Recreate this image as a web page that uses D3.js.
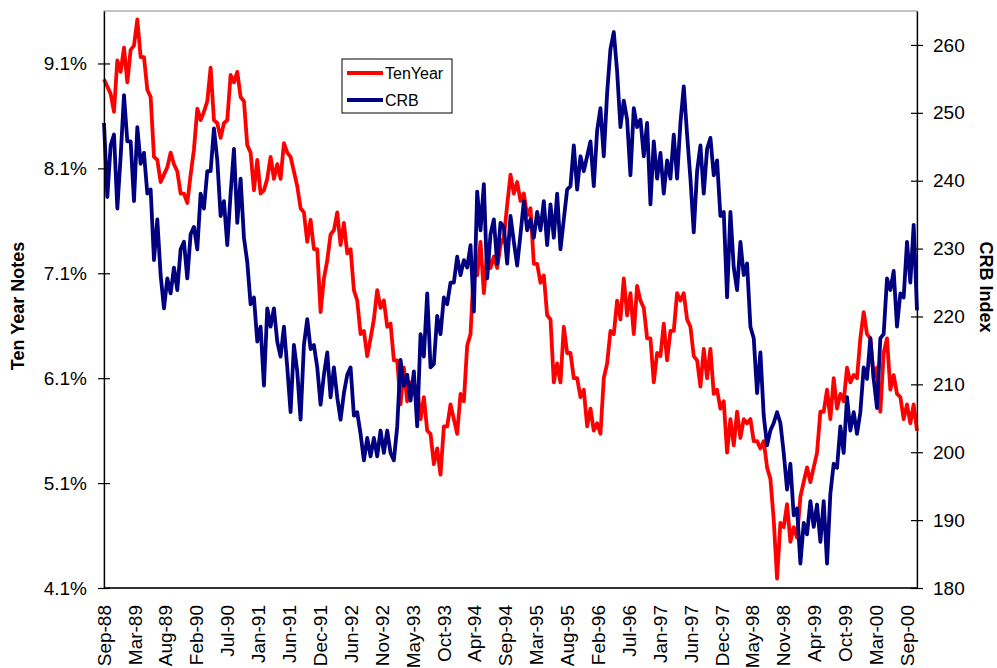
<!DOCTYPE html>
<html>
<head>
<meta charset="utf-8">
<script src="https://cdn.jsdelivr.net/npm/d3@7"></script>
<style>
	body { margin: 0; background: #fff; }
	svg { display: block; font-family: "Liberation Sans", Arial, sans-serif; }
</style>
</head>
<body>
<div id="chart"></div>
<script>
'use strict';

// category labels along the bottom (one every labelEvery trading days)
var tickLabels = ['Sep-88', 'Mar-89', 'Aug-89', 'Feb-90', 'Jul-90', 'Jan-91', 'Jun-91', 'Dec-91', 'Jun-92',
	'Nov-92', 'May-93', 'Oct-93', 'Apr-94', 'Sep-94', 'Mar-95', 'Aug-95', 'Feb-96', 'Jul-96', 'Jan-97',
	'Jun-97', 'Dec-97', 'May-98', 'Nov-98', 'Apr-99', 'Oct-99', 'Mar-00', 'Sep-00'];

var daysPerSample = 11;
var labelEvery = 102;

var leftTicks = [4.1, 5.1, 6.1, 7.1, 8.1, 9.1];
var rightTicks = [180, 190, 200, 210, 220, 230, 240, 250, 260];

// ten year note yield, %
var tenYear = [
	8.95, 8.88, 8.81, 8.64, 9.13, 9.02, 9.25, 8.92, 9.23, 9.27, 9.52, 9.16, 9.16, 8.85, 8.78, 8.21, 8.18, 7.97, 8.04, 8.11,
	8.25, 8.14, 8.07, 7.86, 7.86, 7.77, 8.04, 8.28, 8.67, 8.56, 8.64, 8.74, 9.06, 8.56, 8.53, 8.39, 8.53, 8.56, 8.99, 8.92,
	9.02, 8.78, 8.74, 8.32, 8.25, 7.89, 8.18, 7.86, 7.89, 8.00, 8.21, 8.00, 8.14, 8.00, 8.34, 8.25, 8.21, 8.07, 7.93, 7.72,
	7.68, 7.40, 7.61, 7.33, 7.33, 6.73, 7.05, 7.22, 7.47, 7.51, 7.68, 7.37, 7.58, 7.29, 7.33, 6.94, 6.84, 6.52, 6.55, 6.31,
	6.48, 6.66, 6.94, 6.77, 6.84, 6.59, 6.62, 6.27, 6.27, 5.85, 6.20, 5.88, 6.06, 5.95, 6.02, 5.71, 5.92, 5.60, 5.57, 5.28,
	5.43, 5.18, 5.64, 5.64, 5.85, 5.71, 5.57, 5.95, 5.88, 6.41, 6.52, 7.15, 7.08, 7.40, 6.91, 7.29, 7.15, 7.26, 7.15, 7.37,
	7.44, 7.75, 8.04, 7.86, 7.97, 7.79, 7.86, 7.65, 7.72, 7.19, 7.19, 7.01, 7.08, 6.70, 6.66, 6.06, 6.24, 6.06, 6.59, 6.34,
	6.34, 6.10, 6.10, 5.92, 5.99, 5.64, 5.81, 5.60, 5.67, 5.57, 6.10, 6.24, 6.55, 6.52, 6.84, 6.66, 7.05, 6.70, 6.91, 6.52,
	6.98, 6.84, 6.77, 6.48, 6.48, 6.06, 6.34, 6.31, 6.62, 6.27, 6.55, 6.55, 6.91, 6.84, 6.91, 6.66, 6.59, 6.31, 6.27, 6.02,
	6.38, 6.10, 6.38, 5.95, 5.99, 5.81, 5.88, 5.39, 5.71, 5.46, 5.78, 5.53, 5.71, 5.67, 5.71, 5.50, 5.50, 5.43, 5.50, 5.25,
	5.14, 4.75, 4.19, 4.72, 4.68, 4.90, 4.54, 4.68, 4.58, 4.97, 5.11, 5.25, 5.11, 5.25, 5.39, 5.78, 5.78, 5.99, 5.71, 6.10,
	5.81, 5.95, 5.88, 6.20, 6.06, 6.13, 6.10, 6.48, 6.73, 6.52, 6.48, 6.10, 6.20, 5.78, 6.34, 6.48, 5.99, 6.13, 5.95, 5.92,
	5.71, 5.85, 5.67, 5.85, 5.60
];

// CRB commodity index
var crb = [
	248.5, 237.6, 245.2, 246.8, 235.9, 243.6, 252.6, 245.8, 245.8, 237.0, 247.9, 242.5, 244.1, 238.1, 238.7, 228.3, 234.3, 226.1, 221.2, 225.6,
	223.4, 227.2, 223.9, 229.9, 231.0, 225.6, 232.1, 233.2, 229.9, 238.1, 235.9, 241.4, 241.4, 247.7, 243.0, 234.8, 237.0, 230.5, 238.1, 244.7,
	233.8, 240.3, 231.6, 228.0, 221.8, 222.8, 216.3, 218.5, 209.8, 221.2, 218.5, 221.2, 216.3, 214.1, 218.5, 212.5, 205.9, 215.8, 211.9, 204.8,
	215.8, 219.6, 215.2, 215.8, 212.5, 207.0, 211.4, 214.7, 208.1, 212.5, 208.1, 204.8, 208.7, 211.4, 212.5, 205.4, 205.9, 202.7, 198.8, 202.1,
	199.4, 202.1, 199.4, 203.2, 199.9, 203.2, 199.9, 198.8, 203.8, 213.6, 209.8, 211.4, 207.6, 211.9, 203.8, 217.4, 214.1, 223.4, 212.5, 213.0,
	220.1, 217.4, 222.8, 221.8, 225.0, 225.0, 228.8, 226.1, 228.3, 227.2, 230.5, 220.7, 238.4, 232.7, 239.5, 225.6, 232.1, 234.3, 227.8, 233.8,
	233.2, 227.8, 234.8, 231.0, 227.5, 232.1, 237.0, 232.7, 234.3, 231.6, 235.4, 232.7, 237.0, 230.5, 236.5, 231.6, 238.1, 229.9, 234.3, 238.7,
	239.2, 245.2, 238.7, 243.6, 241.4, 243.6, 245.8, 239.2, 247.4, 250.7, 243.6, 252.9, 259.4, 261.9, 256.1, 247.9, 251.8, 249.0, 240.8, 250.7,
	247.9, 249.0, 243.6, 248.5, 236.5, 245.8, 240.3, 244.1, 238.1, 243.0, 240.3, 246.8, 240.3, 248.5, 253.9, 246.8, 240.3, 232.4, 241.4, 245.2,
	238.1, 244.7, 246.3, 240.8, 243.0, 234.8, 235.4, 222.8, 235.4, 227.2, 223.9, 231.0, 226.1, 227.8, 218.5, 216.8, 208.7, 214.7, 205.4, 201.0,
	203.2, 204.3, 205.9, 204.3, 199.9, 194.5, 198.3, 190.7, 191.7, 183.6, 189.6, 187.9, 192.8, 189.0, 192.3, 186.8, 192.8, 183.6, 193.9, 198.3,
	197.7, 203.8, 199.9, 208.1, 203.2, 205.9, 202.7, 205.9, 212.5, 210.8, 216.8, 210.8, 206.5, 216.8, 217.4, 225.6, 223.9, 226.7, 218.5, 223.4,
	222.8, 231.0, 225.0, 233.5, 220.9
];

var seriesNames = ['TenYear', 'CRB'];
var seriesColors = ['#ff0000', '#000080'];

var W = 997, H = 668;
var margin = {top: 11, right: 80, bottom: 80, left: 104};
var width = W - margin.left - margin.right;
var height = H - margin.top - margin.bottom;

var svg = d3.select('#chart').append('svg')
	.attr('width', W)
	.attr('height', H);

svg.append('rect').attr('width', W).attr('height', H).attr('fill', '#fff');

var g = svg.append('g')
	.attr('transform', 'translate(' + margin.left + ',' + margin.top + ')');

var x = d3.scaleLinear()
	.domain([0, (tenYear.length - 1) * daysPerSample])
	.range([0, width]);

var yLeft = d3.scaleLinear().domain([4.1, 9.6]).range([height, 0]);
var yRight = d3.scaleLinear().domain([180, 265]).range([height, 0]);

// plot frame
g.append('rect')
	.attr('width', width)
	.attr('height', height)
	.attr('fill', 'none')
	.attr('stroke', '#8a8a8a')
	.attr('stroke-width', 1);

var lineTen = d3.line()
	.x(function(d, i){ return x(i * daysPerSample); })
	.y(function(d){ return yLeft(d); });

var lineCrb = d3.line()
	.x(function(d, i){ return x(i * daysPerSample); })
	.y(function(d){ return yRight(d); });

g.append('path')
	.datum(tenYear)
	.attr('fill', 'none')
	.attr('stroke', seriesColors[0])
	.attr('stroke-width', 3.8)
	.attr('stroke-linejoin', 'round')
	.attr('d', lineTen);

g.append('path')
	.datum(crb)
	.attr('fill', 'none')
	.attr('stroke', seriesColors[1])
	.attr('stroke-width', 3.8)
	.attr('stroke-linejoin', 'round')
	.attr('d', lineCrb);

// axes
var leftAxis = d3.axisLeft(yLeft)
	.tickValues(leftTicks)
	.tickSizeInner(6)
	.tickSizeOuter(0)
	.tickPadding(11)
	.tickFormat(function(d){ return d.toFixed(1) + '%'; });

var rightAxis = d3.axisRight(yRight)
	.tickValues(rightTicks)
	.tickSizeInner(6)
	.tickSizeOuter(0)
	.tickPadding(10);

var gl = g.append('g').attr('class', 'axis left').call(leftAxis);
var gr = g.append('g').attr('class', 'axis right')
	.attr('transform', 'translate(' + width + ',0)')
	.call(rightAxis);

[gl, gr].forEach(function(ax){
	ax.select('.domain').attr('stroke', '#000').attr('stroke-width', 1.3);
	ax.selectAll('.tick line').attr('stroke', '#000').attr('stroke-width', 1.2);
	ax.selectAll('text').attr('font-size', 19).attr('fill', '#000')
		.attr('font-family', '"Liberation Sans", Arial, sans-serif');
});
// ticks cross the axis line
gl.selectAll('.tick line').attr('x1', 6);
gr.selectAll('.tick line').attr('x1', -6);

// bottom axis line
g.append('line')
	.attr('x1', 0).attr('x2', width)
	.attr('y1', height).attr('y2', height)
	.attr('stroke', '#000')
	.attr('stroke-width', 1.3);

g.append('g').attr('class', 'xlabels')
	.selectAll('text')
	.data(tickLabels)
	.enter()
	.append('text')
	.attr('transform', function(d, i){
		return 'translate(' + x(i * labelEvery) + ',' + (height + 17) + ') rotate(-90)';
	})
	.attr('dy', '0.35em')
	.attr('text-anchor', 'end')
	.attr('font-size', 19)
	.attr('fill', '#000')
	.text(function(d){ return d; });

// axis titles
svg.append('text')
	.attr('transform', 'translate(24,306) rotate(-90)')
	.attr('text-anchor', 'middle')
	.attr('font-size', 18)
	.attr('font-weight', 'bold')
	.text('Ten Year Notes');

svg.append('text')
	.attr('transform', 'translate(980,287) rotate(90)')
	.attr('text-anchor', 'middle')
	.attr('font-size', 18)
	.attr('font-weight', 'bold')
	.text('CRB Index');

// legend
var legend = svg.append('g').attr('transform', 'translate(342,59)');

legend.append('rect')
	.attr('width', 110)
	.attr('height', 54)
	.attr('fill', '#fff')
	.attr('stroke', '#000')
	.attr('stroke-width', 1);

var item = legend.selectAll('g.item')
	.data(seriesNames)
	.enter()
	.append('g')
	.attr('class', 'item')
	.attr('transform', function(d, i){ return 'translate(0,' + (14 + i * 27) + ')'; });

item.append('line')
	.attr('x1', 5).attr('x2', 41)
	.attr('stroke', function(d, i){ return seriesColors[i]; })
	.attr('stroke-width', 4);

item.append('text')
	.attr('x', 43)
	.attr('dy', '0.36em')
	.attr('font-size', 16)
	.text(function(d){ return d; });
</script>
</body>
</html>
